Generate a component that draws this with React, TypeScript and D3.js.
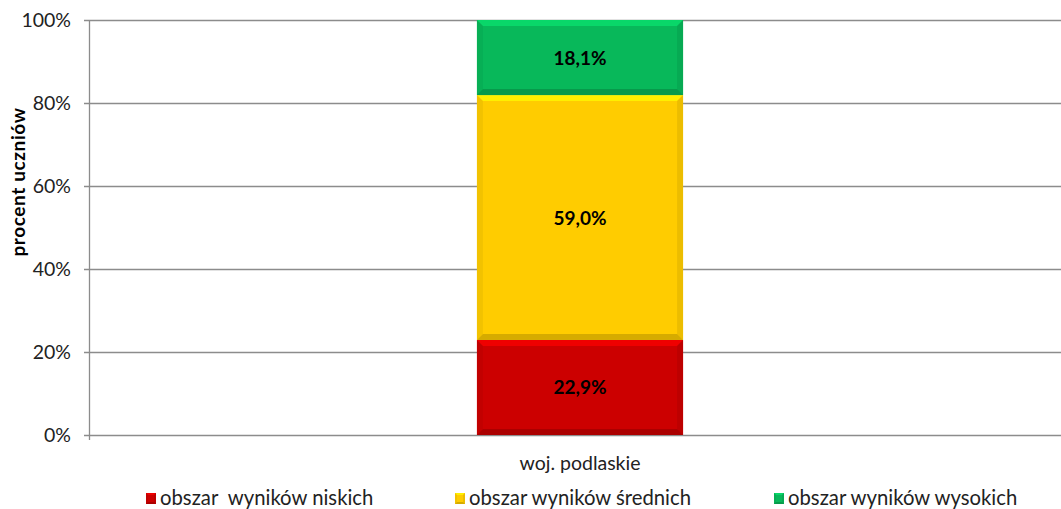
import React, { useRef, useEffect } from 'react';
import * as d3 from 'd3';

const categories = ['woj. podlaskie'];
const seriesNames = ['obszar  wyników niskich', 'obszar wyników średnich', 'obszar wyników wysokich'];
const seriesValues = [[22.9], [59.0], [18.1]];
const seriesColors = ['#cc0000', '#ffcc00', '#08b85a'];
const yTicks = [0, 20, 40, 60, 80, 100];

const FONT = 'Lato, "Open Sans", sans-serif';

const App = () => {
  const ref = useRef<SVGSVGElement>(null);

  useEffect(() => {
    const svg = d3.select(ref.current);
    svg.selectAll('*').remove();

    const W = 1061;
    const H = 509;
    const left = 89;
    const right = 1071;
    const top = 20;
    const bottom = 435;

    const y = d3.scaleLinear().domain([0, 100]).range([bottom, top]);
    const x = d3.scaleBand().domain(categories).range([left, right]).padding(0.653);

    svg.append('rect').attr('width', W).attr('height', H).attr('fill', '#fff');

    // gridlines
    svg
      .append('g')
      .selectAll('line')
      .data(yTicks)
      .enter()
      .append('line')
      .attr('x1', left - 5)
      .attr('x2', W)
      .attr('y1', (d) => y(d) + 0.5)
      .attr('y2', (d) => y(d) + 0.5)
      .attr('stroke', '#8c8c8c')
      .attr('stroke-width', 1.3);

    svg
      .append('line')
      .attr('x1', left + 0.5)
      .attr('x2', left + 0.5)
      .attr('y1', top)
      .attr('y2', bottom + 5)
      .attr('stroke', '#8c8c8c')
      .attr('stroke-width', 1.3);

    svg
      .append('g')
      .selectAll('text')
      .data(yTicks)
      .enter()
      .append('text')
      .attr('x', 71)
      .attr('y', (d) => y(d) + 7)
      .attr('text-anchor', 'end')
      .attr('font-family', FONT)
      .attr('font-size', 19.5)
      .attr('fill', '#222')
      .text((d) => `${d}%`);

    svg
      .append('text')
      .attr('transform', 'translate(25,182) rotate(-90)')
      .attr('text-anchor', 'middle')
      .attr('font-family', FONT)
      .attr('font-weight', 'bold')
      .attr('font-size', 19)
      .attr('letter-spacing', 0.6)
      .attr('fill', '#000')
      .text('procent uczniów');

    // stacked bars with bevel
    const bevel = (g: any, x0: number, y0: number, w: number, h: number, color: string, b: number) => {
      g.append('rect').attr('x', x0).attr('y', y0).attr('width', w).attr('height', h).attr('fill', color);
      const light = d3.color(color)!.brighter(0.6).toString();
      const dark = d3.color(color)!.darker(0.5).toString();
      const darker = d3.color(color)!.darker(0.9).toString();
      const poly = (pts: number[][], fill: string, op: number) =>
        g.append('polygon').attr('points', pts.map((p) => p.join(',')).join(' ')).attr('fill', fill).attr('opacity', op);
      poly([[x0, y0], [x0 + w, y0], [x0 + w - b, y0 + b], [x0 + b, y0 + b]], light, 0.7);
      poly([[x0, y0 + h], [x0 + w, y0 + h], [x0 + w - b, y0 + h - b], [x0 + b, y0 + h - b]], darker, 0.6);
      poly([[x0, y0], [x0 + b, y0 + b], [x0 + b, y0 + h - b], [x0, y0 + h]], dark, 0.3);
      poly([[x0 + w, y0], [x0 + w - b, y0 + b], [x0 + w - b, y0 + h - b], [x0 + w, y0 + h]], dark, 0.45);
    };

    const bw = x.bandwidth();
    categories.forEach((cat, ci) => {
      let acc = 0;
      seriesValues.forEach((vals, si) => {
        const v = vals[ci];
        const y1 = y(acc);
        const y2 = y(acc + v);
        const g = svg.append('g');
        bevel(g, x(cat)!, y2, bw, y1 - y2, seriesColors[si], 6);
        svg
          .append('text')
          .attr('x', x(cat)! + bw / 2)
          .attr('y', (y1 + y2) / 2 + 7)
          .attr('text-anchor', 'middle')
          .attr('font-family', FONT)
          .attr('font-weight', 'bold')
          .attr('font-size', 19)
          .attr('fill', '#000')
          .text(`${v.toFixed(1).replace('.', ',')}%`);
        acc += v;
      });
      svg
        .append('text')
        .attr('x', x(cat)! + bw / 2)
        .attr('y', 470)
        .attr('text-anchor', 'middle')
        .attr('font-family', FONT)
        .attr('font-size', 19.5)
        .attr('fill', '#222')
        .text(cat);
    });

    // legend
    const legendX = [146, 455, 774];
    seriesNames.forEach((name, i) => {
      const g = svg.append('g');
      bevel(g, legendX[i], 493, 10, 11, seriesColors[i], 2);
      svg
        .append('text')
        .attr('x', legendX[i] + 14)
        .attr('y', 505)
        .attr('font-family', FONT)
        .attr('font-size', 20.3)
        .attr('fill', '#222')
        .style('white-space', 'pre')
        .text(name);
    });
  }, []);

  return (
    <svg
      ref={ref}
      width={1061}
      height={509}
      style={{ display: 'block', position: 'fixed', left: 0, top: 0 }}
    />
  );
};

export default App;
